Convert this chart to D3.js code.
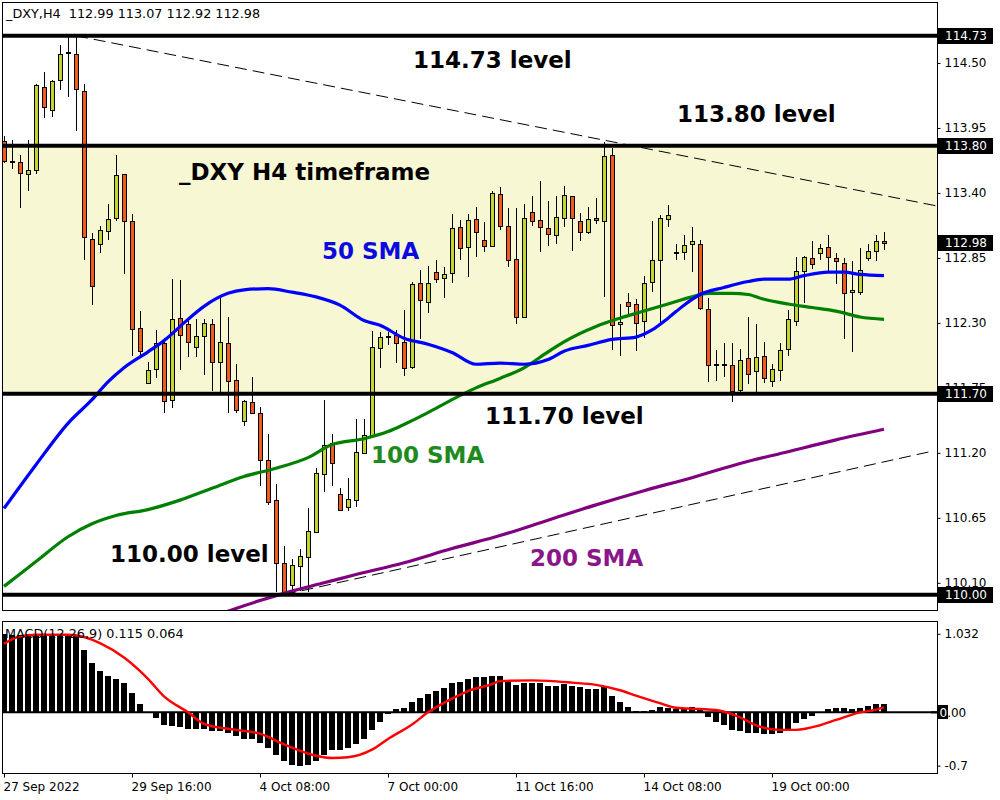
<!DOCTYPE html>
<html><head><meta charset="utf-8">
<script src="https://cdn.jsdelivr.net/npm/d3@7"></script>
<style>body{margin:0;background:#fff}svg{display:block}</style>
</head><body>
<svg id="c" width="1000" height="800"></svg>
<script>
// ---------- DATA ----------
const opens  = [113.84,113.67,113.66,113.56,113.59,114.30,114.10,114.36,114.59,114.58,114.26,113.01,112.97,113.08,113.19,113.56,113.16,112.26,111.79,111.91,112.13,111.65,112.34,112.29,112.10,112.19,112.29,111.97,112.13,111.82,111.47,111.63,111.54,111.14,110.80,110.27,110.08,110.24,110.32,110.53,111.02,111.28,110.85,110.74,110.80,111.20,111.35,112.09,112.19,112.20,112.14,111.93,112.64,112.48,112.73,112.68,112.72,113.11,112.94,113.18,113.00,112.95,113.39,113.12,112.84,112.35,113.24,113.17,113.10,113.04,113.19,113.37,113.16,113.07,113.19,113.16,113.72,112.29,112.48,112.46,112.32,112.65,112.83,113.18,112.90,112.90,112.97,112.97,112.42,111.95,111.95,111.94,111.73,112.00,111.89,112.02,111.81,111.90,112.08,112.32,112.74,112.85,112.89,112.94,112.85,112.81,112.56,112.56,112.85,112.91,112.99];
const highs  = [113.88,113.85,113.72,113.85,114.32,114.42,114.36,114.65,114.72,114.73,114.32,113.06,113.12,113.31,113.72,113.56,113.22,112.40,111.97,112.24,112.17,112.67,112.66,112.33,112.33,112.33,112.33,112.52,112.35,111.95,111.65,111.84,111.59,111.36,110.94,110.41,110.30,110.39,110.73,111.07,111.65,111.36,110.90,110.99,111.49,111.49,112.23,112.22,112.22,112.24,112.41,112.65,112.75,112.78,112.83,112.77,113.22,113.17,113.22,113.28,113.15,113.42,113.45,113.27,113.27,113.31,113.37,113.50,113.33,113.37,113.46,113.37,113.23,113.28,113.36,113.83,113.78,112.46,112.55,112.50,112.70,113.16,113.21,113.30,112.97,113.04,113.11,113.00,112.51,112.07,112.13,112.13,112.08,112.35,112.29,112.14,111.95,112.13,112.41,112.86,112.87,112.99,112.97,113.04,112.89,112.85,112.82,112.93,112.97,113.04,113.07];
const lows   = [113.65,113.60,113.27,113.42,113.56,114.03,114.04,114.27,114.21,113.92,112.83,112.45,112.89,113.00,113.16,112.71,112.02,112.02,111.78,111.83,111.54,111.58,111.90,112.01,112.01,111.86,111.72,111.71,111.54,111.54,111.43,111.53,110.92,110.76,110.02,110.00,110.03,110.03,110.02,110.52,110.87,110.92,110.71,110.71,110.74,111.20,111.34,111.92,112.11,111.96,111.85,111.91,112.16,112.38,112.64,112.51,112.64,112.83,112.69,112.86,112.90,112.94,113.09,112.77,112.29,112.34,113.12,112.90,112.95,112.97,113.11,112.91,112.99,113.05,113.14,112.52,112.07,112.02,112.37,112.06,112.17,112.56,112.30,113.11,112.83,112.83,112.73,112.41,111.80,111.81,111.84,111.63,111.71,111.78,111.71,111.79,111.76,111.81,112.02,112.27,112.47,112.76,112.83,112.73,112.63,112.16,112.05,112.54,112.82,112.82,112.92];
const closes = [113.67,113.67,113.57,113.59,114.31,114.13,114.35,114.58,114.59,114.28,113.03,112.61,113.09,113.18,113.55,113.16,112.25,112.06,111.90,112.13,111.64,112.33,112.20,112.14,112.19,112.30,111.97,112.14,111.81,111.56,111.64,111.54,111.14,110.78,110.27,110.01,110.25,110.33,110.54,111.03,111.27,111.11,110.72,110.81,111.21,111.35,112.10,112.18,112.19,112.13,111.92,112.63,112.49,112.64,112.67,112.71,113.10,112.93,113.17,113.07,112.95,113.40,113.12,112.83,112.35,113.19,113.16,113.11,113.05,113.20,113.38,113.19,113.07,113.18,113.17,113.71,112.28,112.31,112.44,112.30,112.64,112.83,113.19,113.21,112.90,112.96,112.99,112.43,111.94,111.95,111.95,111.72,111.99,111.87,112.01,111.83,111.91,112.07,112.33,112.74,112.86,112.80,112.93,112.86,112.82,112.55,112.58,112.75,112.91,112.99,112.98];

// moving averages: bar index -> value
const sma50Idx  = [0,4,8,11,13,15,18,20,23,25,28,30,33,36,39,42,45,47,50,53,56,59,62,65,68,70,73,76,79,81,83,85,87,90,93,95,98,100,103,105,107,110];
const sma50Val  = [110.73,111.10,111.45,111.65,111.80,111.92,112.055,112.15,112.33,112.44,112.55,112.58,112.59,112.56,112.52,112.45,112.32,112.28,112.17,112.12,112.05,111.95,111.96,111.95,111.99,112.06,112.11,112.16,112.18,112.24,112.34,112.45,112.54,112.60,112.65,112.67,112.67,112.70,112.73,112.73,112.71,112.70];
const sma100Idx = [0,4,8,11,14,18,22,26,30,34,38,41,45,48,50,53,56,59,62,65,68,70,74,77,80,83,86,88,91,93,95,98,101,104,107,110];
const sma100Val = [110.07,110.28,110.49,110.60,110.67,110.72,110.80,110.90,111.00,111.07,111.16,111.27,111.32,111.38,111.44,111.54,111.65,111.75,111.83,111.92,112.055,112.14,112.27,112.34,112.40,112.46,112.52,112.55,112.55,112.54,112.50,112.46,112.43,112.40,112.35,112.33];
const sma200Idx = [24,28,32,36,40,44,50,56,62,68,74,80,86,92,98,104,110];
const sma200Val = [109.76,109.86,109.95,110.03,110.10,110.17,110.27,110.39,110.50,110.63,110.76,110.88,110.99,111.11,111.21,111.31,111.40];

const levelPrices  = [114.73,113.80,111.70,110.00];
const bandPrices   = [113.80,111.70];
const boxedPrices  = [114.73,113.80,112.98,111.70,110.00];
const priceTicks   = [114.50,113.95,113.40,112.85,112.30,111.75,111.20,110.65,110.10];
const upperTrend   = [[9,114.73],[116.6,113.29]];
const lowerTrend   = [[35,110.00],[115.75,111.21]];

const timeTickIdx    = [0,16,32,48,64,80,96];
const timeTickLabels = ["27 Sep 2022","29 Sep 16:00","4 Oct 08:00","7 Oct 00:00","11 Oct 16:00","14 Oct 08:00","19 Oct 00:00"];

const macdHist = [1.03,1.02,1.02,1.02,1.03,1.03,1.03,1.03,1.02,1.02,0.82,0.645,0.545,0.48,0.44,0.38,0.25,0.11,0.01,-0.08,-0.17,-0.19,-0.20,-0.22,-0.22,-0.22,-0.25,-0.25,-0.27,-0.31,-0.35,-0.35,-0.41,-0.47,-0.57,-0.65,-0.69,-0.71,-0.70,-0.64,-0.57,-0.50,-0.50,-0.47,-0.42,-0.35,-0.24,-0.13,-0.03,0.04,0.06,0.14,0.19,0.24,0.28,0.32,0.38,0.405,0.435,0.46,0.46,0.48,0.48,0.42,0.36,0.38,0.38,0.38,0.35,0.35,0.37,0.35,0.33,0.305,0.305,0.33,0.22,0.14,0.075,0.02,0.02,0.03,0.065,0.057,0.04,0.057,0.075,0.04,-0.065,-0.13,-0.165,-0.23,-0.25,-0.275,-0.275,-0.285,-0.285,-0.275,-0.22,-0.15,-0.095,-0.05,0.0,0.04,0.057,0.057,0.04,0.057,0.087,0.11,0.115];
const signalIdx = [0,2,4,8,10,12,15,18,20,23,25,29,32,35,39,41,43,46,48,51,53,56,58,61,62,66,68,71,74,77,79,82,84,87,89,92,94,97,99,102,104,107,109,110];
const signalVal = [0.90,1.00,1.02,1.02,0.99,0.91,0.72,0.44,0.21,0.0,-0.15,-0.23,-0.28,-0.42,-0.57,-0.60,-0.59,-0.49,-0.35,-0.16,0.0,0.18,0.28,0.37,0.41,0.42,0.414,0.39,0.36,0.29,0.22,0.12,0.06,0.044,0.03,-0.065,-0.17,-0.23,-0.23,-0.17,-0.10,0.0,0.035,0.064];
const macdTicks      = [1.032,0,-0.7];
const macdTickLabels = ["1.032","0.00","-0.7"];

// ---------- LAYOUT ----------
const L=2, R=937, T=2, B=610, MT=621, MB=773;
const FONT = "'DejaVu Sans', Verdana, sans-serif";
const BULL = "#c5d42e", BEAR = "#f05a1e", BAND = "#f7f7d4";

const svg = d3.select("#c");
const x  = d3.scaleLinear().domain([0,110]).range([4,884]);
const y  = d3.scaleLinear().domain([109.87,115.016]).range([B,T]);
const ym = d3.scaleLinear().domain([-0.797,1.2]).range([MB,MT]);

svg.append("rect").attr("width",1000).attr("height",800).attr("fill","#fff");

const defs = svg.append("defs");
defs.append("clipPath").attr("id","clipMain").append("rect").attr("x",L).attr("y",T).attr("width",R-L).attr("height",B-T);
defs.append("clipPath").attr("id","clipMacd").append("rect").attr("x",L).attr("y",MT).attr("width",R-L).attr("height",MB-MT);

const gMain = svg.append("g").attr("clip-path","url(#clipMain)");

// band
gMain.append("rect").attr("x",L).attr("width",R-L)
  .attr("y",y(bandPrices[0])).attr("height",y(bandPrices[1])-y(bandPrices[0])).attr("fill",BAND);

// candles
const candles = opens.map((o,i)=>({i,o,h:highs[i],l:lows[i],c:closes[i]}));
const px = d=>Math.round(x(d.i));
gMain.append("g").selectAll("line").data(candles).join("line")
  .attr("x1",d=>px(d)+0.5).attr("x2",d=>px(d)+0.5)
  .attr("y1",d=>Math.round(y(d.h))).attr("y2",d=>Math.round(y(d.l)))
  .attr("stroke","#000").attr("stroke-width",1);
gMain.append("g").selectAll("rect").data(candles).join("rect")
  .attr("x",d=>px(d)-2+0.5).attr("width",5-1)
  .attr("y",d=>Math.round(y(Math.max(d.o,d.c)))+0.5)
  .attr("height",d=>Math.max(1,Math.round(y(Math.min(d.o,d.c)))-Math.round(y(Math.max(d.o,d.c)))))
  .attr("fill",d=>d.c>d.o?BULL:(d.c<d.o?BEAR:"#000"))
  .attr("stroke","#000").attr("stroke-width",1);

// moving averages
const ma = d3.line().x(d=>x(d[0])).y(d=>y(d[1])).curve(d3.curveMonotoneX);
[[sma200Idx,sma200Val,"#800080"],[sma100Idx,sma100Val,"#008000"],[sma50Idx,sma50Val,"#0000ff"]].forEach(([ix,vv,col])=>{
  gMain.append("path").datum(ix.map((k,j)=>[k,vv[j]])).attr("d",ma)
    .attr("fill","none").attr("stroke",col).attr("stroke-width",3.2).attr("stroke-linejoin","round");
});

// trend lines
const tl = d3.line().x(d=>x(d[0])).y(d=>y(d[1]));
[upperTrend,lowerTrend].forEach(t=>{
  gMain.append("path").datum(t).attr("d",tl).attr("fill","none")
    .attr("stroke","#000").attr("stroke-width",1).attr("stroke-dasharray","12,6");
});

// level lines
svg.append("g").selectAll("line").data(levelPrices).join("line")
  .attr("x1",L).attr("x2",R+3).attr("y1",d=>y(d)).attr("y2",d=>y(d))
  .attr("stroke","#000").attr("stroke-width",4);

// frames
svg.append("rect").attr("x",L+0.5).attr("y",T+0.5).attr("width",R-L).attr("height",B-T)
  .attr("fill","none").attr("stroke","#000");
svg.append("rect").attr("x",L+0.5).attr("y",MT+0.5).attr("width",R-L).attr("height",MB-MT)
  .attr("fill","none").attr("stroke","#000");

// price axis
const ax = svg.append("g").attr("transform",`translate(${R+0.5},0)`)
  .call(d3.axisRight(y).tickValues(priceTicks).tickFormat(d3.format(".2f")).tickSize(3).tickPadding(4));
ax.select(".domain").remove();
ax.selectAll("text").attr("font-family",FONT).attr("font-size",12).attr("fill","#000");

// boxed price labels
const bx = svg.append("g").selectAll("g").data(boxedPrices).join("g")
  .attr("transform",d=>`translate(${R+1},${Math.round(y(d))})`);
bx.append("rect").attr("x",0).attr("y",-8).attr("width",55).attr("height",16).attr("fill","#000");
bx.append("text").attr("x",7).attr("y",0).attr("dy","0.35em").attr("font-family",FONT).attr("font-size",12)
  .attr("fill","#fff").text(d=>d3.format(".2f")(d));

// ---------- MACD ----------
const gM = svg.append("g").attr("clip-path","url(#clipMacd)");
gM.append("g").selectAll("rect").data(macdHist).join("rect")
  .attr("x",(d,i)=>Math.round(x(i))-3).attr("width",6)
  .attr("y",d=>Math.round(ym(Math.max(0,d))))
  .attr("height",d=>Math.max(0,Math.round(Math.abs(ym(d)-ym(0)))))
  .attr("fill","#000");
gM.append("line").attr("x1",L).attr("x2",R).attr("y1",ym(0)).attr("y2",ym(0)).attr("stroke","#000").attr("stroke-width",2);
gM.append("path").datum(signalIdx.map((k,j)=>[k,signalVal[j]]))
  .attr("d",d3.line().x(d=>x(d[0])).y(d=>ym(d[1])).curve(d3.curveMonotoneX))
  .attr("fill","none").attr("stroke","#ff0000").attr("stroke-width",2.4);
svg.append("line").attr("x1",R-6).attr("x2",R+1).attr("y1",ym(0)).attr("y2",ym(0)).attr("stroke","#000").attr("stroke-width",2);

// zero-value marker box (drawn under the axis text)
svg.append("rect").attr("x",R+1).attr("y",Math.round(ym(0))-7).attr("width",10).attr("height",14).attr("fill","#000");
const am = svg.append("g").attr("transform",`translate(${R+0.5},0)`)
  .call(d3.axisRight(ym).tickValues(macdTicks).tickFormat((d,i)=>macdTickLabels[i]).tickSize(3).tickPadding(4));
am.select(".domain").remove();
am.selectAll("text").attr("font-family",FONT).attr("font-size",12).attr("fill","#000");
am.selectAll(".tick").filter(d=>d===0).call(t=>{
  t.select("line").remove();
  const tx = t.select("text").attr("x",2).text("");
  tx.append("tspan").attr("fill","#fff").text("0");
  tx.append("tspan").attr("fill","#000").text(".00");
});

// time axis
const at = svg.append("g").attr("transform",`translate(0,${MB+0.5})`)
  .call(d3.axisBottom(x).tickValues(timeTickIdx).tickFormat((d,i)=>timeTickLabels[i]).tickSize(4).tickPadding(5));
at.select(".domain").remove();
at.selectAll("text").attr("font-family",FONT).attr("font-size",12).attr("fill","#000").attr("text-anchor","start").attr("dx",-1);

// ---------- TEXTS ----------
const f2 = d3.format(".2f");
svg.append("text").attr("x",6).attr("y",18).attr("font-family",FONT).attr("font-size",12.8).attr("fill","#000")
  .attr("xml:space","preserve").style("white-space","pre")
  .text(`_DXY,H4  ${f2(opens[110])} ${f2(highs[110])} ${f2(lows[110])} ${f2(closes[110])}`);
svg.append("text").attr("x",5).attr("y",638).attr("font-family",FONT).attr("font-size",12.8).attr("fill","#000")
  .text(`MACD(12,26,9) ${d3.format(".3f")(macdHist[110])} ${d3.format(".3f")(signalVal[signalVal.length-1])}`);

const notes = [
  ["114.73 level",413,67.5,"#000"],
  ["113.80 level",677,122,"#000"],
  ["_DXY H4 timeframe",179,179.5,"#000"],
  ["50 SMA",322,258.5,"#0a0ae0"],
  ["111.70 level",485,424,"#000"],
  ["100 SMA",371,462.5,"#1e8a1e"],
  ["110.00 level",110,561.5,"#000"],
  ["200 SMA",530,566,"#8a168a"]
];
svg.append("g").selectAll("text").data(notes).join("text")
  .attr("x",d=>d[1]).attr("y",d=>d[2]).attr("fill",d=>d[3])
  .attr("font-family",FONT).attr("font-weight","bold").attr("font-size",23)
  .text(d=>d[0]);
</script>
</body></html>
